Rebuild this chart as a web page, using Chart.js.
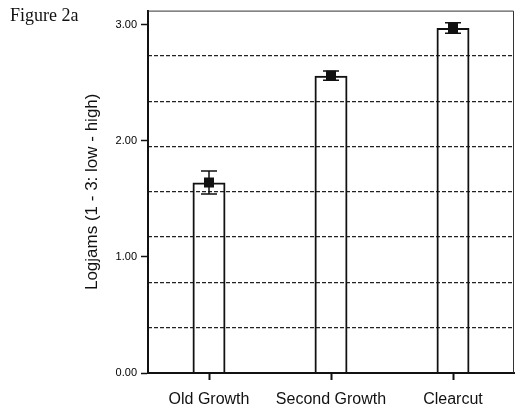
<!DOCTYPE html>
<html>
<head>
<meta charset="utf-8">
<script src="https://cdn.jsdelivr.net/npm/chart.js@4.4.1/dist/chart.umd.min.js"></script>
<style>
  html, body { margin: 0; padding: 0; background: #fff; }
  #wrap { position: relative; width: 521px; height: 413px; }
  #fig { position: absolute; left: 10px; top: 5px; font: 18px "Liberation Serif", "Times New Roman", serif; color: #111; }
</style>
</head>
<body>
<div id="wrap">
  <canvas id="chart" width="521" height="413"></canvas>
  <div id="fig">Figure 2a</div>
</div>
<script>
// data
const categories = ['Old Growth', 'Second Growth', 'Clearcut'];
const means = [1.64, 2.56, 2.97];
const errors = [0.10, 0.04, 0.045];
const yTickValues = [0, 1, 2, 3];
const gridValues = [0.39, 0.78, 1.17, 1.56, 1.95, 2.34, 2.73];
const yMax = 3.12;

/* error bars + square markers */
const errorBars = {
  id: 'errorBars',
  afterDatasetsDraw(chart) {
    const { ctx, scales: { y } } = chart;
    const meta = chart.getDatasetMeta(0);
    ctx.save();
    ctx.strokeStyle = '#111';
    ctx.fillStyle = '#111';
    ctx.lineWidth = 1.5;
    meta.data.forEach((bar, i) => {
      const x = bar.x;
      const yTop = y.getPixelForValue(means[i] + errors[i]);
      const yBot = y.getPixelForValue(means[i] - errors[i]);
      const yMid = y.getPixelForValue(means[i]);
      ctx.beginPath();
      ctx.moveTo(x, yTop); ctx.lineTo(x, yBot);
      ctx.moveTo(x - 8, yTop); ctx.lineTo(x + 8, yTop);
      ctx.moveTo(x - 8, yBot); ctx.lineTo(x + 8, yBot);
      ctx.stroke();
      ctx.fillRect(x - 5, yMid - 5, 10, 10);
    });
    ctx.restore();
  }
};

/* thin frame on top and right */
const frame = {
  id: 'frame',
  afterDraw(chart) {
    const { ctx, chartArea: a } = chart;
    ctx.save();
    ctx.strokeStyle = '#333';
    ctx.lineWidth = 1;
    ctx.beginPath();
    ctx.moveTo(a.left, a.top + 0.5);
    ctx.lineTo(a.right - 0.5, a.top + 0.5);
    ctx.lineTo(a.right - 0.5, a.bottom);
    ctx.stroke();
    ctx.restore();
  }
};

new Chart(document.getElementById('chart'), {
  type: 'bar',
  data: {
    labels: categories,
    datasets: [{
      data: means,
      backgroundColor: 'rgba(255,255,255,0)',
      borderColor: '#111',
      borderWidth: 2,
      borderSkipped: 'bottom',
      categoryPercentage: 1,
      barPercentage: 0.27,
    }],
  },
  options: {
    responsive: false,
    animation: false,
    layout: { padding: { left: 0, right: 7, top: 10, bottom: 0 } },
    plugins: { legend: { display: false }, tooltip: { enabled: false } },
    scales: {
      x: {
        offset: true,
        grid: { offset: false, drawOnChartArea: false, tickLength: 7, tickColor: '#111', tickWidth: 2 },
        border: { color: '#111', width: 2 },
        ticks: { color: '#111', padding: 10, maxRotation: 0, font: { family: 'Liberation Sans, Arial', size: 16 } },
        afterFit: s => { s.height = 40; },
      },
      y: {
        min: 0,
        max: yMax,
        afterBuildTicks: s => { s.ticks = yTickValues.map(v => ({ value: v })); },
        grid: { drawOnChartArea: false, tickLength: 7, tickColor: '#111', tickWidth: 1.5 },
        border: { color: '#111', width: 2 },
        ticks: {
          color: '#000',
          padding: 4,
          font: { family: 'Liberation Sans, Arial', size: 11 },
          callback: v => Number(v).toFixed(2),
        },
        title: {
          display: true,
          text: 'Logjams (1 - 3: low - high)',
          color: '#111',
          font: { family: 'Liberation Sans, Arial', size: 17 },
          padding: { top: 82, bottom: 0 },
        },
        afterFit: s => { s.width = 148; },
      },
      y2: {
        position: 'right',
        min: 0,
        max: yMax,
        afterBuildTicks: s => { s.ticks = gridValues.map(v => ({ value: v })); },
        grid: { color: '#222', lineWidth: 1.3, drawTicks: false },
        border: { display: false, dash: [4, 2] },
        ticks: { display: false },
        afterFit: s => { s.width = 0; },
      },
    },
  },
  plugins: [errorBars, frame],
});
</script>
</body>
</html>
